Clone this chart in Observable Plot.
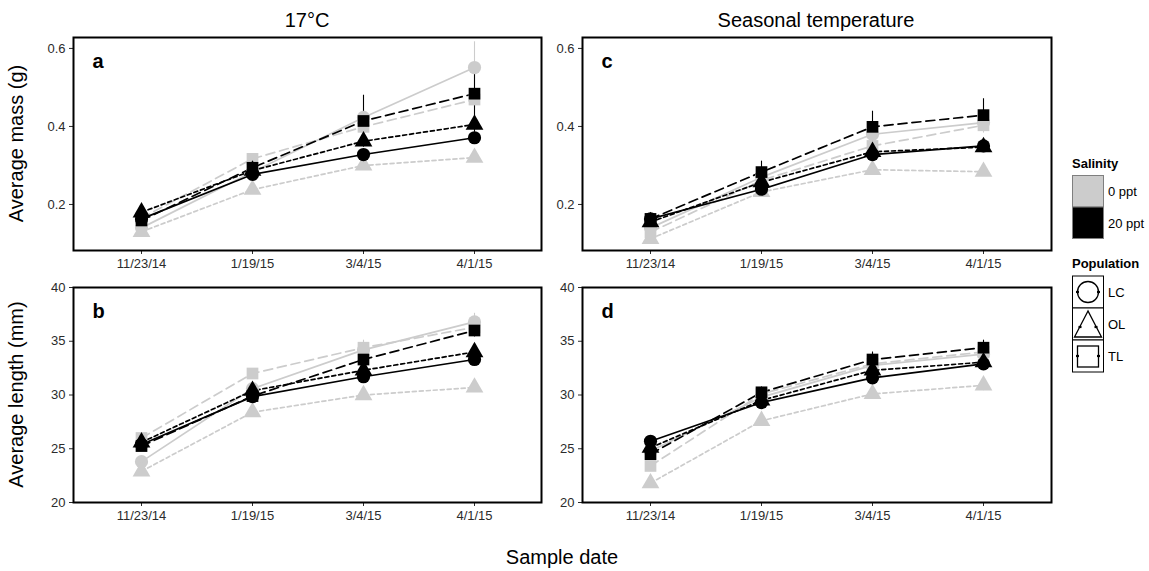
<!DOCTYPE html>
<html>
<head>
<meta charset="utf-8">
<script src="https://cdn.jsdelivr.net/npm/d3@7"></script>
<script src="https://cdn.jsdelivr.net/npm/@observablehq/plot@0.6"></script>
<style>
  html, body { margin: 0; padding: 0; background: white; }
  #chart { position: relative; width: 1149px; height: 571px; background: white; font-family: "Liberation Sans", Arial, Helvetica, sans-serif; overflow: hidden; }
  #chart > .pane { position: absolute; }
  #overlay { position: absolute; left: 0; top: 0; pointer-events: none; }
</style>
</head>
<body>
<div id="chart"></div>
<script>
// ---------- data ----------
const dates = ["11/23/14", "1/19/15", "3/4/15", "4/1/15"];
const salinities = ["0 ppt", "20 ppt"];
const populations = ["LC", "OL", "TL"];
// series order: LC 0, OL 0, TL 0, LC 20, OL 20, TL 20
const seriesSalinity = ["0 ppt", "0 ppt", "0 ppt", "20 ppt", "20 ppt", "20 ppt"];
const seriesPopulation = ["LC", "OL", "TL", "LC", "OL", "TL"];

const massTicks = [0.2, 0.4, 0.6];
const lengthTicks = [20, 25, 30, 35, 40];

// Panel a: average mass (g), 17°C
const mass17 = [
  [0.140, 0.283, 0.423, 0.551],
  [0.130, 0.238, 0.300, 0.320],
  [0.165, 0.317, 0.399, 0.469],
  [0.163, 0.277, 0.328, 0.371],
  [0.180, 0.287, 0.362, 0.405],
  [0.159, 0.294, 0.414, 0.484]
];
const mass17SE = [
  [0.006, 0.012, 0.020, 0.066],
  [0.005, 0.010, 0.012, 0.012],
  [0.008, 0.012, 0.015, 0.020],
  [0.006, 0.008, 0.010, 0.012],
  [0.008, 0.010, 0.015, 0.020],
  [0.006, 0.012, 0.066, 0.058]
];
// Panel c: average mass (g), seasonal temperature
const massSeasonal = [
  [0.140, 0.270, 0.380, 0.410],
  [0.112, 0.232, 0.289, 0.284],
  [0.129, 0.262, 0.350, 0.403],
  [0.163, 0.239, 0.328, 0.350],
  [0.155, 0.257, 0.335, 0.347],
  [0.163, 0.283, 0.399, 0.429]
];
const massSeasonalSE = [
  [0.006, 0.015, 0.020, 0.020],
  [0.005, 0.010, 0.012, 0.012],
  [0.006, 0.012, 0.020, 0.020],
  [0.006, 0.010, 0.010, 0.012],
  [0.006, 0.010, 0.012, 0.012],
  [0.008, 0.028, 0.040, 0.042]
];
// Panel b: average length (mm), 17°C
const length17 = [
  [23.8, 30.6, 34.2, 36.8],
  [22.9, 28.4, 30.0, 30.7],
  [26.0, 32.0, 34.4, 36.3],
  [25.4, 29.85, 31.7, 33.3],
  [25.6, 30.4, 32.3, 34.0],
  [25.25, 29.9, 33.3, 36.0]
];
const length17SE = [
  [0.4, 0.5, 0.5, 0.8],
  [0.3, 0.4, 0.4, 0.4],
  [0.4, 0.4, 0.7, 0.5],
  [0.3, 0.3, 0.4, 0.4],
  [0.3, 0.3, 0.4, 0.5],
  [0.3, 0.4, 0.5, 0.6]
];
// Panel d: average length (mm), seasonal temperature
const lengthSeasonal = [
  [24.8, 29.8, 32.75, 33.8],
  [21.8, 27.6, 30.1, 30.9],
  [23.4, 30.1, 32.9, 34.0],
  [25.7, 29.3, 31.6, 32.9],
  [25.1, 29.5, 32.3, 33.05],
  [24.5, 30.25, 33.3, 34.4]
];
const lengthSeasonalSE = [
  [0.4, 0.4, 0.5, 0.5],
  [0.4, 0.4, 0.4, 0.5],
  [0.4, 0.4, 0.5, 0.5],
  [0.3, 0.3, 0.4, 0.4],
  [0.3, 0.4, 0.4, 0.4],
  [0.3, 0.5, 0.7, 0.7]
];

const columnTitles = ["17°C", "Seasonal temperature"];
const rowTitles = ["Average mass (g)", "Average length (mm)"];
const xTitle = "Sample date";

// ---------- styling ----------
const FONT = '"Liberation Sans", Arial, Helvetica, sans-serif';
const salinityColors = ["#cccccc", "#000000"];
const populationSymbols = ["circle", "triangle", "square"];
const dashes = {LC: null, OL: "4,3", TL: "9,5"};

function buildRows(values, errors) {
  const rows = [];
  values.forEach((series, s) => {
    series.forEach((v, i) => {
      rows.push({
        series: s, date: dates[i], sal: seriesSalinity[s], pop: seriesPopulation[s],
        v, lo: v - errors[s][i], hi: v + errors[s][i]
      });
    });
  });
  return rows;
}

function panel(opts) {
  const rows = buildRows(opts.values, opts.errors);
  const lines = opts.values.map((_, s) =>
    Plot.line(rows.filter(d => d.series === s), {
      x: "date", y: "v", stroke: "sal", strokeWidth: 1.7,
      strokeDasharray: dashes[seriesPopulation[s]] || undefined
    })
  );
  return Plot.plot({
    width: opts.width, height: opts.height,
    marginLeft: opts.marginLeft, marginRight: 4,
    marginTop: 7, marginBottom: 25,
    style: {fontFamily: FONT, fontSize: "13px", color: "#2b2b2b", background: "white", overflow: "visible"},
    x: {type: "point", domain: dates, padding: 0.6, label: null, tickSize: 4, tickPadding: 4},
    y: {domain: opts.yDomain, ticks: opts.yTicks, tickFormat: opts.yFormat, label: null, tickSize: 4, tickPadding: 4},
    color: {domain: salinities, range: salinityColors},
    symbol: {domain: populations, range: populationSymbols},
    marks: [
      Plot.ruleX(rows, {x: "date", y1: "lo", y2: "hi", stroke: "sal", strokeWidth: 1.1}),
      ...lines,
      Plot.dot(rows, {x: "date", y: "v", symbol: "pop", fill: "sal", r: 6.6, stroke: "none"}),
      Plot.frame({stroke: "black", strokeWidth: 2}),
      Plot.text([opts.letter], {text: d => d, frameAnchor: "top-left", dx: 19, dy: 16,
        fontSize: 20, fontWeight: "bold", fill: "black"})
    ]
  });
}

const chart = document.getElementById("chart");
function place(svg, left, top) {
  const div = document.createElement("div");
  div.className = "pane";
  div.style.left = left + "px";
  div.style.top = top + "px";
  div.appendChild(svg);
  chart.appendChild(div);
}

const massDomain = [0.082, 0.628];
const lengthDomain = [20, 40];
const fmtMass = d3.format(".1f");
const fmtLen = d3.format("d");

place(panel({values: mass17, errors: mass17SE, yDomain: massDomain, yTicks: massTicks, yFormat: fmtMass,
  letter: "a", width: 545, height: 245, marginLeft: 73}), 0, 30);
place(panel({values: massSeasonal, errors: massSeasonalSE, yDomain: massDomain, yTicks: massTicks, yFormat: fmtMass,
  letter: "c", width: 510, height: 245, marginLeft: 37}), 545, 30);
place(panel({values: length17, errors: length17SE, yDomain: lengthDomain, yTicks: lengthTicks, yFormat: fmtLen,
  letter: "b", width: 545, height: 247, marginLeft: 73}), 0, 280);
place(panel({values: lengthSeasonal, errors: lengthSeasonalSE, yDomain: lengthDomain, yTicks: lengthTicks, yFormat: fmtLen,
  letter: "d", width: 510, height: 247, marginLeft: 37}), 545, 280);

// ---------- titles and legend ----------
const svg = d3.select(chart).append("svg")
  .attr("id", "overlay").attr("width", 1149).attr("height", 571)
  .style("font-family", FONT);

const titleSize = 20;
svg.append("text").attr("x", 307).attr("y", 27).attr("text-anchor", "middle")
  .attr("font-size", titleSize).text(columnTitles[0]);
svg.append("text").attr("x", 816).attr("y", 27).attr("text-anchor", "middle")
  .attr("font-size", titleSize).text(columnTitles[1]);
svg.append("text").attr("transform", "translate(23,143.5) rotate(-90)").attr("text-anchor", "middle")
  .attr("font-size", titleSize).text(rowTitles[0]);
svg.append("text").attr("transform", "translate(23,394.5) rotate(-90)").attr("text-anchor", "middle")
  .attr("font-size", titleSize).text(rowTitles[1]);
svg.append("text").attr("x", 562).attr("y", 564).attr("text-anchor", "middle")
  .attr("font-size", titleSize).text(xTitle);

// Salinity legend
const lx = 1072, kw = 31;
svg.append("text").attr("x", lx).attr("y", 168).attr("font-size", 13).attr("font-weight", "bold").text("Salinity");
salinities.forEach((s, i) => {
  const y0 = 175.5 + i * 31.5;
  svg.append("rect").attr("x", lx + 0.5).attr("y", y0).attr("width", kw).attr("height", 31.5)
    .attr("fill", salinityColors[i]).attr("stroke", "#7f7f7f").attr("stroke-width", 1);
  svg.append("text").attr("x", lx + kw + 5).attr("y", y0 + 16).attr("dy", "0.35em")
    .attr("font-size", 13).text(s);
});

// Population legend
svg.append("text").attr("x", lx).attr("y", 268).attr("font-size", 13).attr("font-weight", "bold").text("Population");
populations.forEach((p, i) => {
  const y0 = 276 + i * 32;
  const cx = lx + 0.5 + kw / 2, cy = y0 + 16;
  svg.append("rect").attr("x", lx + 0.5).attr("y", y0).attr("width", kw).attr("height", 32)
    .attr("fill", "white").attr("stroke", "black").attr("stroke-width", 1);
  const g = svg.append("g").attr("fill", "none").attr("stroke", "black").attr("stroke-width", 1.3);
  let hw;
  if (p === "LC") {
    g.append("circle").attr("cx", cx).attr("cy", cy).attr("r", 10.5);
    hw = 10.5;
  } else if (p === "OL") {
    g.append("path").attr("d", `M${cx},${cy - 13}L${cx - 13.5},${cy + 13}L${cx + 13.5},${cy + 13}Z`);
    hw = 8;
  } else {
    g.append("rect").attr("x", cx - 10.5).attr("y", cy - 10).attr("width", 21).attr("height", 21);
    hw = 10.5;
  }
  svg.append("line").attr("x1", cx - hw - 1.5).attr("x2", cx - hw + 1.5).attr("y1", cy + (p === "OL" ? 3 : 0)).attr("y2", cy + (p === "OL" ? 3 : 0))
    .attr("stroke", "black").attr("stroke-width", 2.2);
  svg.append("line").attr("x1", cx + hw - 1.5).attr("x2", cx + hw + 1.5).attr("y1", cy + (p === "OL" ? 3 : 0)).attr("y2", cy + (p === "OL" ? 3 : 0))
    .attr("stroke", "black").attr("stroke-width", 2.2);
  svg.append("text").attr("x", lx + kw + 5).attr("y", cy).attr("dy", "0.35em")
    .attr("font-size", 13).text(p);
});
</script>
</body>
</html>
